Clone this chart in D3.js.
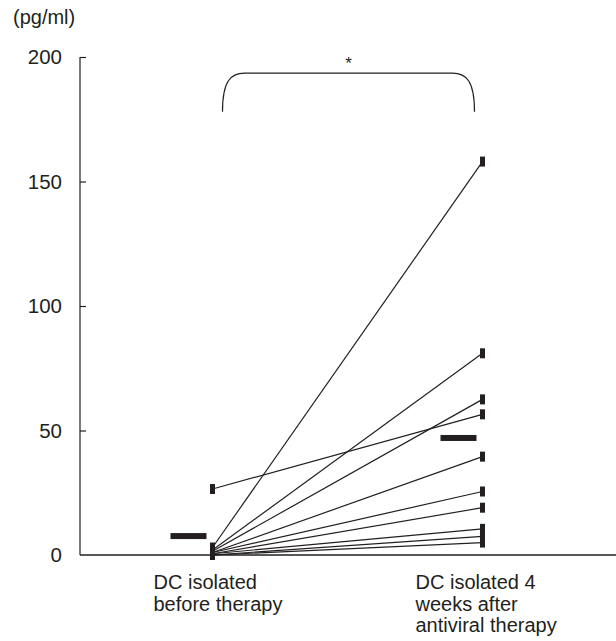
<!DOCTYPE html>
<meta charset="utf-8">
<style>
body { margin: 0; background: #fff; }
text { font-family: 'Liberation Sans', Arial, Helvetica, sans-serif; fill: #231f20; }
</style>
<body>
<div id="chart"></div>
<script src="https://d3js.org/d3.v7.min.js"></script>
<script>

// groups on the x axis and their multi-line labels
var groups = ["before", "after"];
var groupLabels = [
  ["DC isolated", "before therapy"],
  ["DC isolated 4", "weeks after", "antiviral therapy"]
];

// paired values per patient (pg/ml)
var beforeValues = [3, 2, 1.5, 26.5, 1, 1, 0.5, 0.5, 0, 0];
var afterValues  = [158, 81, 62.5, 56.5, 39.5, 25.5, 19, 10.5, 7.5, 5];

// group means
var means = [7.6, 47];

var yTicks = [0, 50, 100, 150, 200];

var width = 616, height = 641;
var ink = "#231f20";

var svg = d3.select("#chart").append("svg")
  .attr("width", width)
  .attr("height", height);

var x = d3.scalePoint()
  .domain(groups)
  .range([212.5, 482.5]);

var y = d3.scaleLinear()
  .domain([0, 200])
  .range([555, 57]);

// y axis: ticks pointing inward
var yAxis = svg.append("g")
  .attr("transform", "translate(80,0)")
  .call(d3.axisRight(y).tickValues(yTicks).tickSize(6).tickFormat(""));
yAxis.select(".domain").attr("d", "M0," + y(200) + "V" + y(0)).attr("stroke", ink).attr("stroke-width", 1.2);
yAxis.selectAll(".tick line").attr("stroke", ink).attr("stroke-width", 1.2);
yAxis.selectAll(".tick").filter(function(d) { return d === 0; }).remove();

svg.append("g").selectAll("text")
  .data(yTicks)
  .enter().append("text")
    .attr("x", 62)
    .attr("y", function(d) { return y(d); })
    .attr("dy", "0.35em")
    .attr("text-anchor", "end")
    .style("font-size", "20.5px")
    .text(function(d) { return d; });

// x axis baseline
svg.append("line")
  .attr("x1", 80).attr("x2", width)
  .attr("y1", y(0)).attr("y2", y(0))
  .attr("stroke", ink).attr("stroke-width", 1.5);

svg.append("text")
  .attr("x", 13).attr("y", 24)
  .style("font-size", "20px")
  .text("(pg/ml)");

// paired lines
var pairs = beforeValues.map(function(d, i) { return [d, afterValues[i]]; });

svg.append("g").selectAll("line")
  .data(pairs)
  .enter().append("line")
    .attr("x1", x("before")).attr("x2", x("after"))
    .attr("y1", function(d) { return y(d[0]); })
    .attr("y2", function(d) { return y(d[1]); })
    .attr("stroke", ink)
    .attr("stroke-width", 1.2);

// individual point markers
groups.forEach(function(g) {
  var vals = g === "before" ? beforeValues : afterValues;
  svg.append("g").selectAll("rect")
    .data(vals)
    .enter().append("rect")
      .attr("x", x(g) - 2.5)
      .attr("y", function(d) { return y(d) - 5; })
      .attr("width", 5)
      .attr("height", 10)
      .attr("fill", ink);
});

// mean bars
svg.append("g").selectAll("rect")
  .data(means)
  .enter().append("rect")
    .attr("x", function(d, i) { return x(groups[i]) - 42; })
    .attr("y", function(d) { return y(d) - 3; })
    .attr("width", 36)
    .attr("height", 6)
    .attr("fill", ink);

// significance bracket
var bl = x("before") + 10, br = x("after") - 8;
var bTop = y(193.5), bBot = y(178);
svg.append("path")
  .attr("d", "M" + bl + "," + bBot +
             "C" + bl + "," + (bTop + 8) + " " + (bl + 8) + "," + bTop + " " + (bl + 22) + "," + bTop +
             "L" + (br - 22) + "," + bTop +
             "C" + (br - 8) + "," + bTop + " " + br + "," + (bTop + 8) + " " + br + "," + bBot)
  .attr("fill", "none")
  .attr("stroke", ink)
  .attr("stroke-width", 1.2);

svg.append("text")
  .attr("x", (bl + br) / 2)
  .attr("y", bTop - 4)
  .attr("text-anchor", "middle")
  .style("font-size", "17px")
  .text("*");

// group labels, one text per line
groupLabels.forEach(function(lines, i) {
  var lx = i === 0 ? x("before") - 59 : x("after") - 67;
  svg.append("g").selectAll("text")
    .data(lines)
    .enter().append("text")
      .attr("x", lx)
      .attr("y", function(d, j) { return 589 + j * 21.5; })
      .style("font-size", "20px")
      .text(function(d) { return d; });
});

</script>
</body>
